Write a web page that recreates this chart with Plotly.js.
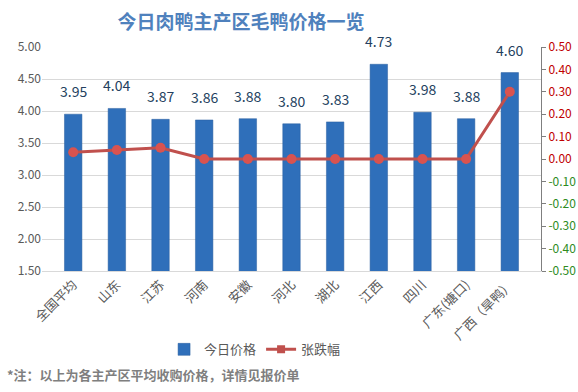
<!DOCTYPE html>
<html>
<head>
<meta charset="utf-8">
<script src="https://cdn.plot.ly/plotly-3.0.1.min.js"></script>
<style>html,body{margin:0;padding:0;background:#fff;}#chart{width:578px;height:392px;}</style>
</head>
<body>
<div id="chart"></div>
<script>
const categories = ['全国平均','山东','江苏','河南','安徽','河北','湖北','江西','四川','广东(塘口)','广西（旱鸭）'];
const prices = [3.95, 4.04, 3.87, 3.86, 3.88, 3.80, 3.83, 4.73, 3.98, 3.88, 4.60];
const changes = [0.03, 0.04, 0.05, 0.00, 0.00, 0.00, 0.00, 0.00, 0.00, 0.00, 0.30];
const leftTicks = [1.5, 2.0, 2.5, 3.0, 3.5, 4.0, 4.5, 5.0];
const rightTicks = [-0.5, -0.4, -0.3, -0.2, -0.1, 0.0, 0.1, 0.2, 0.3, 0.4, 0.5];
const rightTickText = rightTicks.map(v => {
  const c = v < 0 ? '#2e8b1e' : '#c00000';
  return '<span style="color:' + c + '">' + v.toFixed(2) + '</span>';
});

const FONT = '"Noto Sans CJK SC", "Noto Sans", sans-serif';

const traces = [
  {
    type: 'bar', name: '今日价格', x: categories, y: prices,
    marker: {color: '#2f6fba', line: {color: '#2a5f9e', width: 0.5}},
    width: 0.4, hoverinfo: 'x+y'
  },
  {
    type: 'scatter', mode: 'lines+markers', name: '张跌幅', x: categories, y: changes,
    yaxis: 'y2', showlegend: false,
    line: {color: '#c0504d', width: 3},
    marker: {color: '#d9534f', size: 10, symbol: 'circle'}
  },
  {
    type: 'scatter', mode: 'lines+markers', name: '张跌幅', x: [null], y: [null],
    yaxis: 'y2', showlegend: true,
    line: {color: '#c0504d', width: 3},
    marker: {color: '#c0504d', size: 8, symbol: 'square'}
  }
];

const barLabels = categories.map((c, i) => ({
  xref: 'x', yref: 'y', x: c, y: prices[i], yshift: 23,
  xanchor: 'center', yanchor: 'middle', showarrow: false,
  text: prices[i].toFixed(2),
  font: {size: 14, color: '#243f60', family: FONT}
}));

const layout = {
  width: 578, height: 392,
  margin: {l: 42, r: 37, t: 47, b: 121},
  paper_bgcolor: '#ffffff', plot_bgcolor: '#ffffff',
  font: {family: FONT, color: '#595959', size: 12},
  title: {
    text: '<b>今日肉鸭主产区毛鸭价格一览</b>',
    font: {size: 19, color: '#4f81bd', family: FONT},
    x: 0.417, xref: 'container', xanchor: 'center',
    y: 0.944, yref: 'container', yanchor: 'middle'
  },
  bargap: 0.6,
  xaxis: {
    type: 'category', tickangle: -45,
    tickfont: {size: 13, color: '#595959', family: FONT},
    showline: true, linecolor: '#d9d9d9', linewidth: 1,
    ticks: '', showgrid: false, automargin: false
  },
  yaxis: {
    range: [1.5, 5.0], tickvals: leftTicks, tickformat: '.2f',
    showgrid: true, gridcolor: '#d9d9d9', gridwidth: 1,
    zeroline: false, showline: false, ticks: '',
    tickfont: {size: 12, color: '#595959', family: FONT},
    automargin: false
  },
  yaxis2: {
    overlaying: 'y', side: 'right',
    range: [-0.5, 0.5], tickvals: rightTicks, ticktext: rightTickText,
    showgrid: false, zeroline: false,
    showline: true, linecolor: '#7f7f7f', linewidth: 1,
    ticks: 'outside', ticklen: 4, tickcolor: '#7f7f7f',
    tickfont: {size: 12, family: FONT},
    automargin: false
  },
  legend: {
    orientation: 'h', x: 0.427, xanchor: 'center', y: -0.35, yanchor: 'middle',
    font: {size: 13, color: '#595959', family: FONT},
    traceorder: 'normal', itemwidth: 30
  },
  annotations: barLabels.concat([{
    xref: 'paper', yref: 'paper', x: -0.074, y: -0.464,
    xanchor: 'left', yanchor: 'middle', showarrow: false,
    text: '<b>*注：以上为各主产区平均收购价格，详情见报价单</b>',
    font: {size: 13, color: '#7f7f7f', family: FONT}
  }]),
  showlegend: true
};

Plotly.newPlot('chart', traces, layout, {displayModeBar: false, staticPlot: true});
</script>
</body>
</html>
